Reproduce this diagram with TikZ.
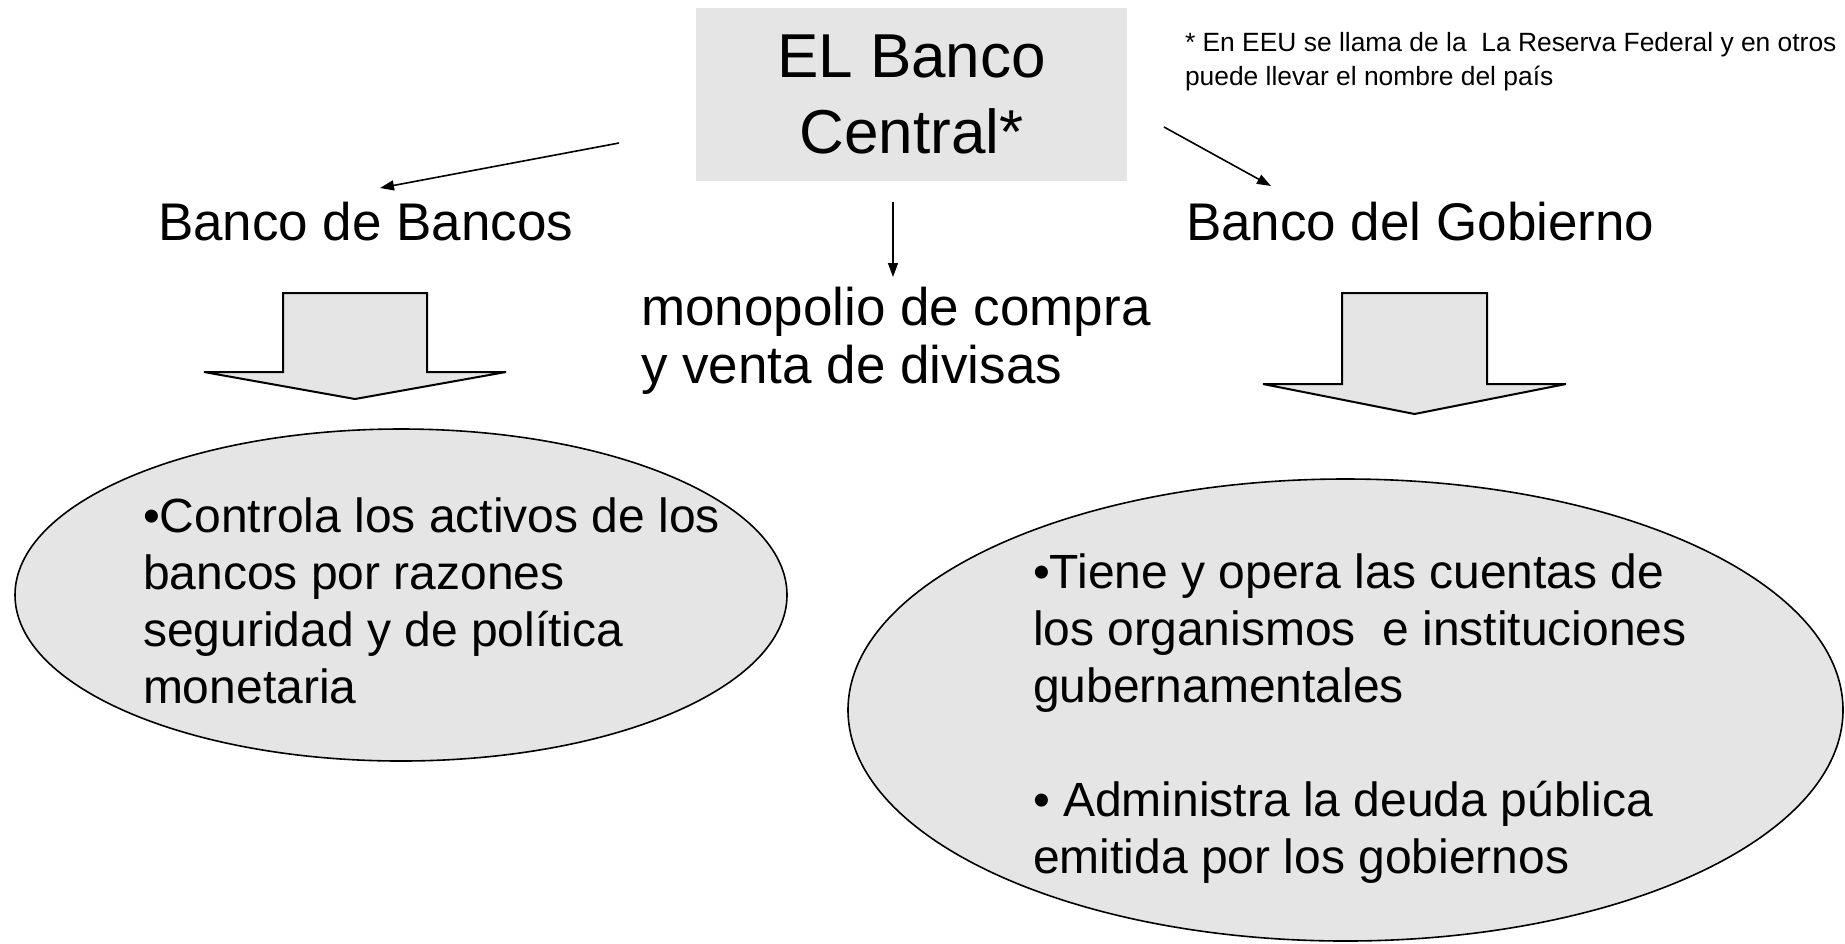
\documentclass[tikz,border=0pt]{standalone}
\usepackage{fontspec}
\setmainfont{Liberation Sans}
\usetikzlibrary{arrows.meta,shapes.geometric}
\tikzset{
every picture/.style={
line width=1pt
}}
\tikzset{
big/.style={font=\fontsize{26.5}{29}\selectfont, inner sep=0pt, align=left, anchor=base west},
inell/.style={font=\fontsize{24}{28.5}\selectfont, inner sep=0pt, align=left, anchor=base west},
note/.style={font=\fontsize{13.2}{17}\selectfont, inner sep=0pt, align=left, anchor=base west},
ell/.style={ellipse, draw, line width=0.8pt, fill=gray!20, inner sep=0pt},
blk/.style={draw, fill=gray!20},
tip/.style={line width=0.8pt, -{Triangle[length=7pt,width=5pt]}}
}

\begin{document}
\begin{tikzpicture}[x=0.5pt, y=-0.5pt]
\useasboundingbox (0,0) rectangle (1845,943);

% multi-line nodes sit on the baseline of their last line
\node[fill=gray!20, minimum width=215.5pt, minimum height=86.5pt, align=center,
  font=\fontsize{31}{38}\selectfont] (bc) at (911.5,94.5) {EL Banco\\Central*};
\node[note] (nt) at (1184,85) {* En EEU se llama de la~ La Reserva Federal y en otros\\puede llevar el nombre del país};

\node[big] (bb) at (157,240) {Banco de Bancos};
\node[big] (bg) at (1185,240) {Banco del Gobierno};
\node[big] (mon) at (640,383) {monopolio de compra\\y venta de divisas};

% thin arrows from the box
\coordinate (lb1) at (619,143);
\coordinate (lb2) at (380,188);
\coordinate (md1) at (893,202);
\coordinate (md2) at (893,277);
\coordinate (gb1) at (1164,127);
\coordinate (gb2) at (1271,186);
\foreach \a/\b in {lb1/lb2, md1/md2, gb1/gb2}{
  \draw[tip] (\a) -- (\b);
}

% block arrows: left/right of shaft, shoulder, tip
\foreach \l/\r/\s/\t in {283/427/372/399, 1342/1487/384/414}{
  \draw[blk] (\l,293) -- (\r,293) -- (\r,\s) -- (\r+79,\s) -- ({(\l+\r)/2},\t) -- (\l-79,\s) -- (\l,\s) -- cycle;
}

\node[ell, minimum width=386pt, minimum height=166pt] (elb) at (401,595) {};
\node[ell, minimum width=497.5pt, minimum height=231pt] (egb) at (1345.5,710) {};

\node[inell] (tlb) at (142,703) {•Controla los activos de los\\bancos por razones\\seguridad y de política\\monetaria};
\node[inell] (tgb) at (1032,873) {•Tiene y opera las cuentas de\\los organismos~ e instituciones\\gubernamentales\\[28.5pt]• Administra la deuda pública\\emitida por los gobiernos};
\end{tikzpicture}
\end{document}
